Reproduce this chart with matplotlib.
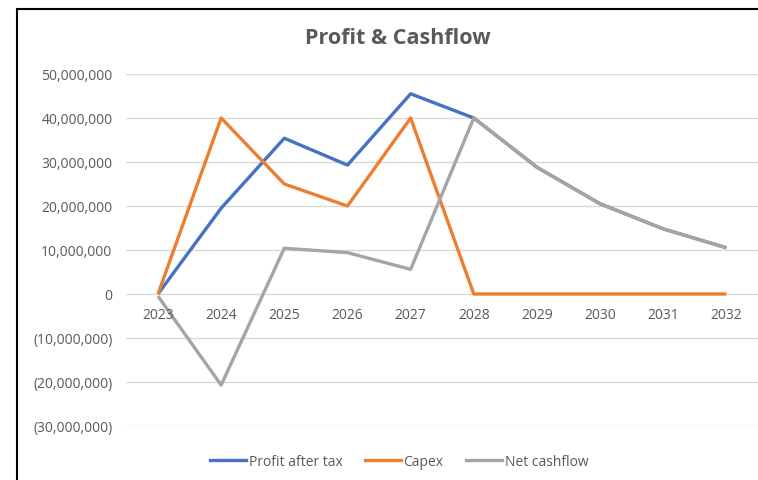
import matplotlib
matplotlib.use("Agg")
import matplotlib.pyplot as plt
from matplotlib.lines import Line2D
from matplotlib.ticker import FuncFormatter

plt.rcParams['font.family'] = ['Open Sans', 'DejaVu Sans']

years = ['2023', '2024', '2025', '2026', '2027', '2028', '2029', '2030', '2031', '2032']
profit_after_tax = [0, 19500000, 35400000, 29300000, 45500000, 40000000, 28800000, 20500000, 14800000, 10500000]
capex = [0, 40000000, 25000000, 20000000, 40000000, 0, 0, 0, 0, 0]
net_cashflow = [-500000, -20700000, 10400000, 9400000, 5600000, 40000000, 28800000, 20500000, 14800000, 10500000]

series_names = ['Profit after tax', 'Capex', 'Net cashflow']
colors = ['#4472C4', '#ED7D31', '#A5A5A5']
txt = '#595959'

fig = plt.figure(figsize=(7.58, 4.81), dpi=100)
ax = fig.add_axes([126.4 / 758, 1 - 427 / 481, 1 - 126.4 / 758, (427 - 75) / 481])

# chart border (only left and top edges are inside the picture)
fig.add_artist(Line2D([17 / 758, 17 / 758], [0, 1 - 10 / 481], color='black', lw=1.5))
fig.add_artist(Line2D([17 / 758, 1], [1 - 10 / 481, 1 - 10 / 481], color='black', lw=1.5))

x = list(range(len(years)))
for vals, name, c in zip([profit_after_tax, capex, net_cashflow], series_names, colors):
    ax.plot(x, vals, color=c, lw=2.4, label=name, solid_joinstyle='round', solid_capstyle='butt')

ax.set_xlim(-0.5, len(years) - 0.5)
ax.set_ylim(-30000000, 50000000)
ax.set_yticks(range(-30000000, 50000001, 10000000))


def fmt(v, pos):
    if v == 0:
        return '0'
    if v < 0:
        return '({:,.0f})'.format(-v)
    return '{:,.0f}'.format(v)


ax.yaxis.set_major_formatter(FuncFormatter(fmt))
ax.tick_params(axis='y', length=0, pad=10, labelsize=10, labelcolor=txt)
ax.set_xticks([])
ax.grid(axis='y', color='#d9d9d9', lw=1)
ax.set_axisbelow(True)
for s in ax.spines.values():
    s.set_visible(False)

# category labels sit just under the zero line
for i, y in enumerate(years):
    ax.annotate(y, (i, 0), xytext=(0, -14.5), textcoords='offset points',
                ha='center', va='center', fontsize=10, color=txt)

fig.text(398 / 758, 1 - 38 / 481, 'Profit & Cashflow', ha='center', va='center',
         fontsize=15.5, fontweight='bold', color=txt)

handles = [Line2D([], [], color=c, lw=2.4) for c in colors]
fig.legend(handles, series_names, loc='center', bbox_to_anchor=(399 / 758, 1 - 462 / 481),
           ncol=3, frameon=False, fontsize=10, labelcolor=txt, handlelength=2.6,
           handletextpad=0.2, columnspacing=1.6)

fig.savefig('out.png', dpi=100, facecolor='white')
